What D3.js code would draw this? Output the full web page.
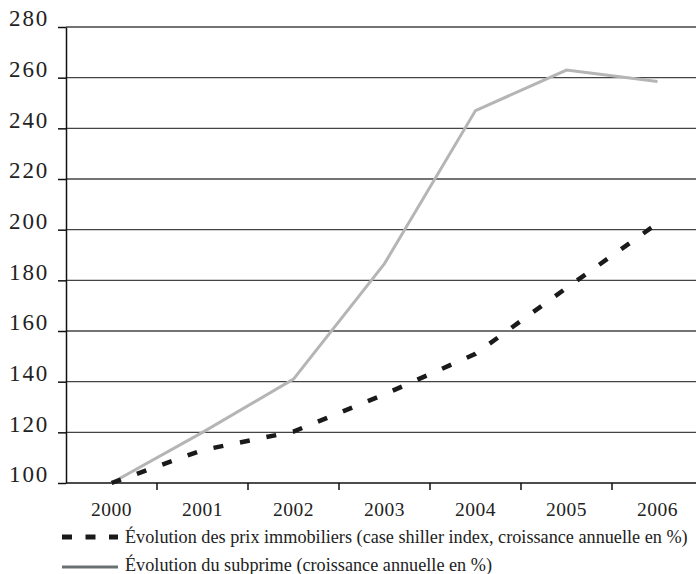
<!DOCTYPE html>
<html><head><meta charset="utf-8">
<script src="https://cdn.jsdelivr.net/npm/d3@7"></script>
<style>body{margin:0;background:#fff}svg{display:block}
svg text{font-family:"Liberation Serif","DejaVu Serif","Noto Serif",Times,serif !important;}
</style>
</head><body>
<svg id="c" width="696" height="574"></svg>
<script>
const years = ["2000","2001","2002","2003","2004","2005","2006"];
const prixImmobiliers = [100, 113, 120.3, 135, 151, 177, 202.5];
const subprime = [100, 120, 141, 186.6, 247, 263, 258.5];
const yTicks = [100,120,140,160,180,200,220,240,260,280];
const legendLabels = ["Évolution des prix immobiliers (case shiller index, croissance annuelle en %)",
                      "Évolution du subprime (croissance annuelle en %)"];

const svg = d3.select("#c");
const x = d3.scaleBand().domain(years).range([66, 703]);
const y = d3.scaleLinear().domain([100, 280]).range([483, 27]);

// gridlines
svg.append("g").selectAll("line").data(yTicks.filter(d => d > 100)).join("line")
  .attr("x1", 66).attr("x2", 696).attr("y1", d => y(d)).attr("y2", d => y(d))
  .attr("stroke", "#444").attr("stroke-width", 1.3);

// y axis
const ya = svg.append("g").attr("transform", "translate(66,0)")
  .call(d3.axisLeft(y).tickValues(yTicks).tickSize(8).tickSizeOuter(0).tickPadding(9));
ya.select(".domain").attr("stroke", "#111").attr("stroke-width", 1.5);
ya.selectAll(".tick line").attr("stroke", "#111").attr("stroke-width", 1.5);
ya.selectAll(".tick text").attr("font-size", 23)
  .attr("letter-spacing", 1.8).attr("fill", "#222").attr("dy", "-0.05em");

// x axis
const xa = svg.append("g").attr("transform", "translate(0,483)")
  .call(d3.axisBottom(x).tickSize(0).tickPadding(19));
xa.select(".domain").attr("stroke", "#111").attr("stroke-width", 1.5).attr("d", "M66,0H696");
xa.selectAll(".tick text").attr("font-size", 19.5)
  .attr("letter-spacing", 0.5).attr("fill", "#222");
// band boundary ticks
const bounds = years.slice(1).map(d => x(d));
xa.append("g").selectAll("line").data(bounds).join("line")
  .attr("x1", d => d).attr("x2", d => d).attr("y1", 0).attr("y2", 7)
  .attr("stroke", "#111").attr("stroke-width", 1.5);

const line = d3.line().x((d, i) => x(years[i]) + x.bandwidth() / 2).y(d => y(d));

svg.append("path").datum(subprime).attr("d", line)
  .attr("fill", "none").attr("stroke", "#b5b5b5").attr("stroke-width", 3);
svg.append("path").datum(prixImmobiliers).attr("d", line)
  .attr("fill", "none").attr("stroke", "#1a1a1a").attr("stroke-width", 4.5)
  .attr("stroke-dasharray", "10,17");

// legend
const lg = svg.append("g");
lg.append("line").attr("x1", 62).attr("x2", 118).attr("y1", 537).attr("y2", 537)
  .attr("stroke", "#1a1a1a").attr("stroke-width", 5).attr("stroke-dasharray", "10,13.5");
lg.append("line").attr("x1", 62).attr("x2", 118).attr("y1", 567).attr("y2", 567)
  .attr("stroke", "#6a7070").attr("stroke-width", 3);
const lt = lg.selectAll("text").data(legendLabels).join("text")
  .attr("x", 125).attr("y", (d, i) => 543 + i * 28)
  .attr("font-size", 18).attr("fill", "#222")
  .text(d => d);
// fit first legend line to its measured width in the reference
const w0 = lt.nodes()[0].getComputedTextLength();
const k = 563 / w0;
lt.attr("font-size", 18 * k);
</script>
</body></html>
